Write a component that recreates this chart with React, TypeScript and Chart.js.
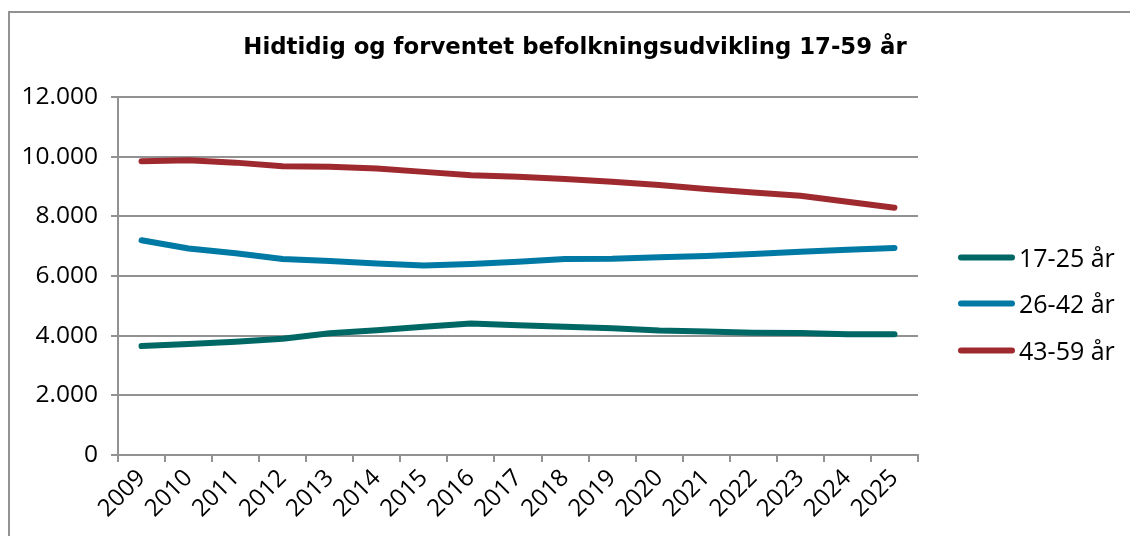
import React, { useEffect, useRef } from "react";
import { Chart, registerables } from "chart.js";

Chart.register(...registerables);

const categories = ["2009", "2010", "2011", "2012", "2013", "2014", "2015", "2016", "2017", "2018", "2019", "2020", "2021", "2022", "2023", "2024", "2025"];
const seriesNames = ["17-25 år", "26-42 år", "43-59 år"];
const age17to25 = [3650, 3720, 3800, 3900, 4080, 4180, 4300, 4410, 4350, 4300, 4250, 4170, 4140, 4100, 4090, 4050, 4050];
const age26to42 = [7200, 6920, 6760, 6570, 6500, 6420, 6350, 6400, 6480, 6570, 6580, 6630, 6670, 6740, 6810, 6880, 6940];
const age43to59 = [9850, 9880, 9800, 9680, 9660, 9600, 9490, 9380, 9330, 9250, 9160, 9050, 8920, 8800, 8690, 8490, 8290];
const seriesColors = ["#006864", "#007aa5", "#9e2a30"];
const titleText = "Hidtidig og forventet befolkningsudvikling 17-59 år";
const yTicks = [0, 2000, 4000, 6000, 8000, 10000, 12000];

const GRID = "#929292";

function fmt(v: number): string {
  const s = String(Math.round(v));
  return s.replace(/\B(?=(\d{3})+(?!\d))/g, ".");
}

const overlayPlugin = {
  id: "overlay",
  afterDraw(chart: any) {
    const ctx = chart.ctx;
    ctx.save();
    ctx.fillStyle = "#000";
    ctx.font = 'bold 22.8px "DejaVu Sans"';
    ctx.textAlign = "center";
    ctx.textBaseline = "alphabetic";
    ctx.fillText(titleText, 575, 54);

    const rows = [266.5, 312.5, 359.5];
    chart.data.datasets.forEach((ds: any, i: number) => {
      const base = rows[i];
      const cy = base - 9;
      ctx.strokeStyle = ds.borderColor;
      ctx.lineWidth = 6;
      ctx.lineCap = "round";
      ctx.beginPath();
      ctx.moveTo(961, cy);
      ctx.lineTo(1012, cy);
      ctx.stroke();
      ctx.fillStyle = "#000";
      ctx.font = '25px "Open Sans"';
      ctx.textAlign = "left";
      ctx.fillText(ds.label, 1019, base);
    });
    ctx.restore();
  },
};

export default function App() {
  const ref = useRef<HTMLCanvasElement | null>(null);
  useEffect(() => {
    if (!ref.current) return;
    const data = [age17to25, age26to42, age43to59];
    const chart = new Chart(ref.current, {
      type: "line",
      data: {
        labels: categories,
        datasets: seriesNames.map((name, i) => ({
          label: name,
          data: data[i],
          borderColor: seriesColors[i],
          backgroundColor: seriesColors[i],
          borderWidth: 6,
          borderCapStyle: "round",
          borderJoinStyle: "round",
          pointRadius: 0,
          tension: 0,
          fill: false,
        })),
      },
      options: {
        responsive: false,
        animation: false,
        devicePixelRatio: 1,
        layout: { padding: { left: 0, right: 212, top: 97, bottom: 0 } },
        plugins: {
          legend: { display: false },
          title: { display: false },
          tooltip: { enabled: false },
        },
        scales: {
          x: {
            type: "category",
            offset: true,
            grid: {
              offset: true,
              drawOnChartArea: false,
              drawTicks: true,
              tickLength: 7,
              color: GRID,
              lineWidth: 2,
            },
            border: { display: true, color: GRID, width: 2 },
            ticks: {
              autoSkip: false,
              maxRotation: 45,
              minRotation: 45,
              color: "#000",
              font: { family: "Open Sans", size: 24 },
              padding: 2,
            },
            afterFit(scale: any) {
              scale.height = 81;
            },
          },
          y: {
            min: 0,
            max: 12000,
            afterBuildTicks(scale: any) {
              scale.ticks = yTicks.map((v) => ({ value: v }));
            },
            grid: {
              color: GRID,
              lineWidth: 2,
              tickLength: 7,
              drawTicks: true,
            },
            border: { display: true, color: GRID, width: 2 },
            ticks: {
              color: "#000",
              font: { family: "Open Sans", size: 24.5 },
              padding: 13,
              callback: (v: any) => fmt(Number(v)),
            },
            afterFit(scale: any) {
              scale.width = 118;
            },
          },
        },
      },
      plugins: [overlayPlugin],
    } as any);
    return () => chart.destroy();
  }, []);

  return (
    <div style={{ position: "fixed", left: 0, top: 0, width: 1130, height: 536, background: "#fff", overflow: "hidden" }}>
      <div
        style={{
          position: "absolute",
          left: 8,
          top: 11,
          width: 1200,
          height: 600,
          borderLeft: `2px solid ${GRID}`,
          borderTop: `2px solid ${GRID}`,
        }}
      />
      <canvas ref={ref} width={1130} height={536} style={{ position: "absolute", left: 0, top: 0, width: 1130, height: 536 }} />
    </div>
  );
}
